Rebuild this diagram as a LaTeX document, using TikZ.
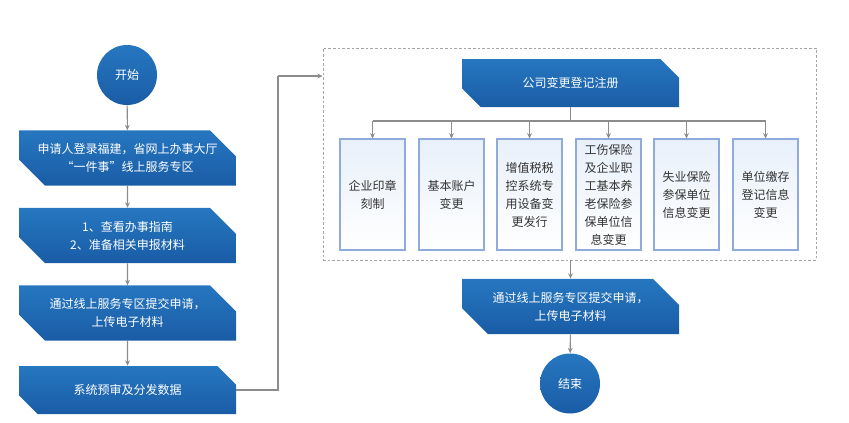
\documentclass[tikz,border=0pt]{standalone}
\usepackage{fontspec}
\setmainfont{Noto Sans CJK SC}
\usetikzlibrary{shapes.misc,arrows.meta,calc}
\definecolor{bluetop}{HTML}{2677C0}
\definecolor{bluebot}{HTML}{1A5CA6}
\definecolor{linegray}{HTML}{8C8C8C}
\definecolor{subedge}{HTML}{8EABDC}
\definecolor{subtop}{HTML}{E8F0FA}
\begin{document}
\begin{tikzpicture}[x=0.75pt,y=0.75pt,yscale=-1,xscale=1,
  every node/.style={font=\fontsize{9pt}{13.5pt}\selectfont, inner sep=0pt, align=center},
  roundnode/.style={circle, minimum size=45pt, top color=bluetop, bottom color=bluebot, text=white, draw=none},
  stepbox/.style={chamfered rectangle, chamfered rectangle corners={north east,south west},
    chamfered rectangle xsep=9.75pt, chamfered rectangle ysep=9.75pt,
    minimum width=162.75pt, minimum height=36pt, top color=bluetop, bottom color=bluebot, text=white},
  subbox/.style={rectangle, draw=subedge, line width=0.8pt, minimum width=48.75pt, minimum height=83.25pt,
    top color=subtop, bottom color=white, text=black!80},
  framebox/.style={rectangle, draw=black!35, dash pattern=on 2pt off 1.5pt, line width=0.6pt,
    minimum width=369.75pt, minimum height=159pt},
  line/.style={draw=linegray, line width=0.8pt},
  arrow/.style={line, -{Stealth[length=4pt,width=3.6pt]}}]
\useasboundingbox (0,0) rectangle (849,422);
\node[roundnode] (start) at (127,75) {开始};
\node[stepbox] (login) at (127.5,158) {申请人登录福建，省网上办事大厅\\“一件事”线上服务专区};
\node[stepbox] (guide) at (127.5,235.5) {1、查看办事指南\\2、准备相关申报材料};
\node[stepbox] (submit) at (127.5,313) {通过线上服务专区提交申请，\\上传电子材料};
\node[stepbox] (dispatch) at (127.5,390) {系统预审及分发数据};
\node[framebox] (frame) at (569.5,154) {};
\node[stepbox] (reg) at (570.5,83) {公司变更登记注册};
\node[subbox] (s1) at (372.5,194.5) {企业印章\\刻制};
\node[subbox] (s2) at (451.5,194.5) {基本账户\\变更};
\node[subbox] (s3) at (529.5,194.5) {增值税税\\控系统专\\用设备变\\更发行};
\node[subbox] (s4) at (608.5,194.5) {工伤保险\\及企业职\\工基本养\\老保险参\\保单位信\\息变更};
\node[subbox] (s5) at (686.5,194.5) {失业保险\\参保单位\\信息变更};
\node[subbox] (s6) at (765.5,194.5) {单位缴存\\登记信息\\变更};
\node[stepbox] (submit2) at (570.5,306.5) {通过线上服务专区提交申请，\\上传电子材料};
\node[roundnode] (finish) at (570,383.5) {结束};
\coordinate (bus) at (570.5,121);
\coordinate (bend) at (278,76);
\draw[arrow] (start) -- (login);
\draw[arrow] (login) -- (guide);
\draw[arrow] (guide) -- (submit);
\draw[arrow] (submit) -- (dispatch);
\draw[line] (dispatch.east) -| (bend);
\draw[arrow] (bend) -- (frame.west |- bend);
\draw[line] (reg.south) -- (bus);
\draw[line] (s1.north |- bus) -- (s6.north |- bus);
\foreach \i in {1,...,6}
  \draw[arrow] (s\i.north |- bus) -- (s\i.north);
\draw[arrow] (submit2.north |- frame.south) -- (submit2.north);
\draw[arrow] (submit2) -- (finish);
\end{tikzpicture}
\end{document}
